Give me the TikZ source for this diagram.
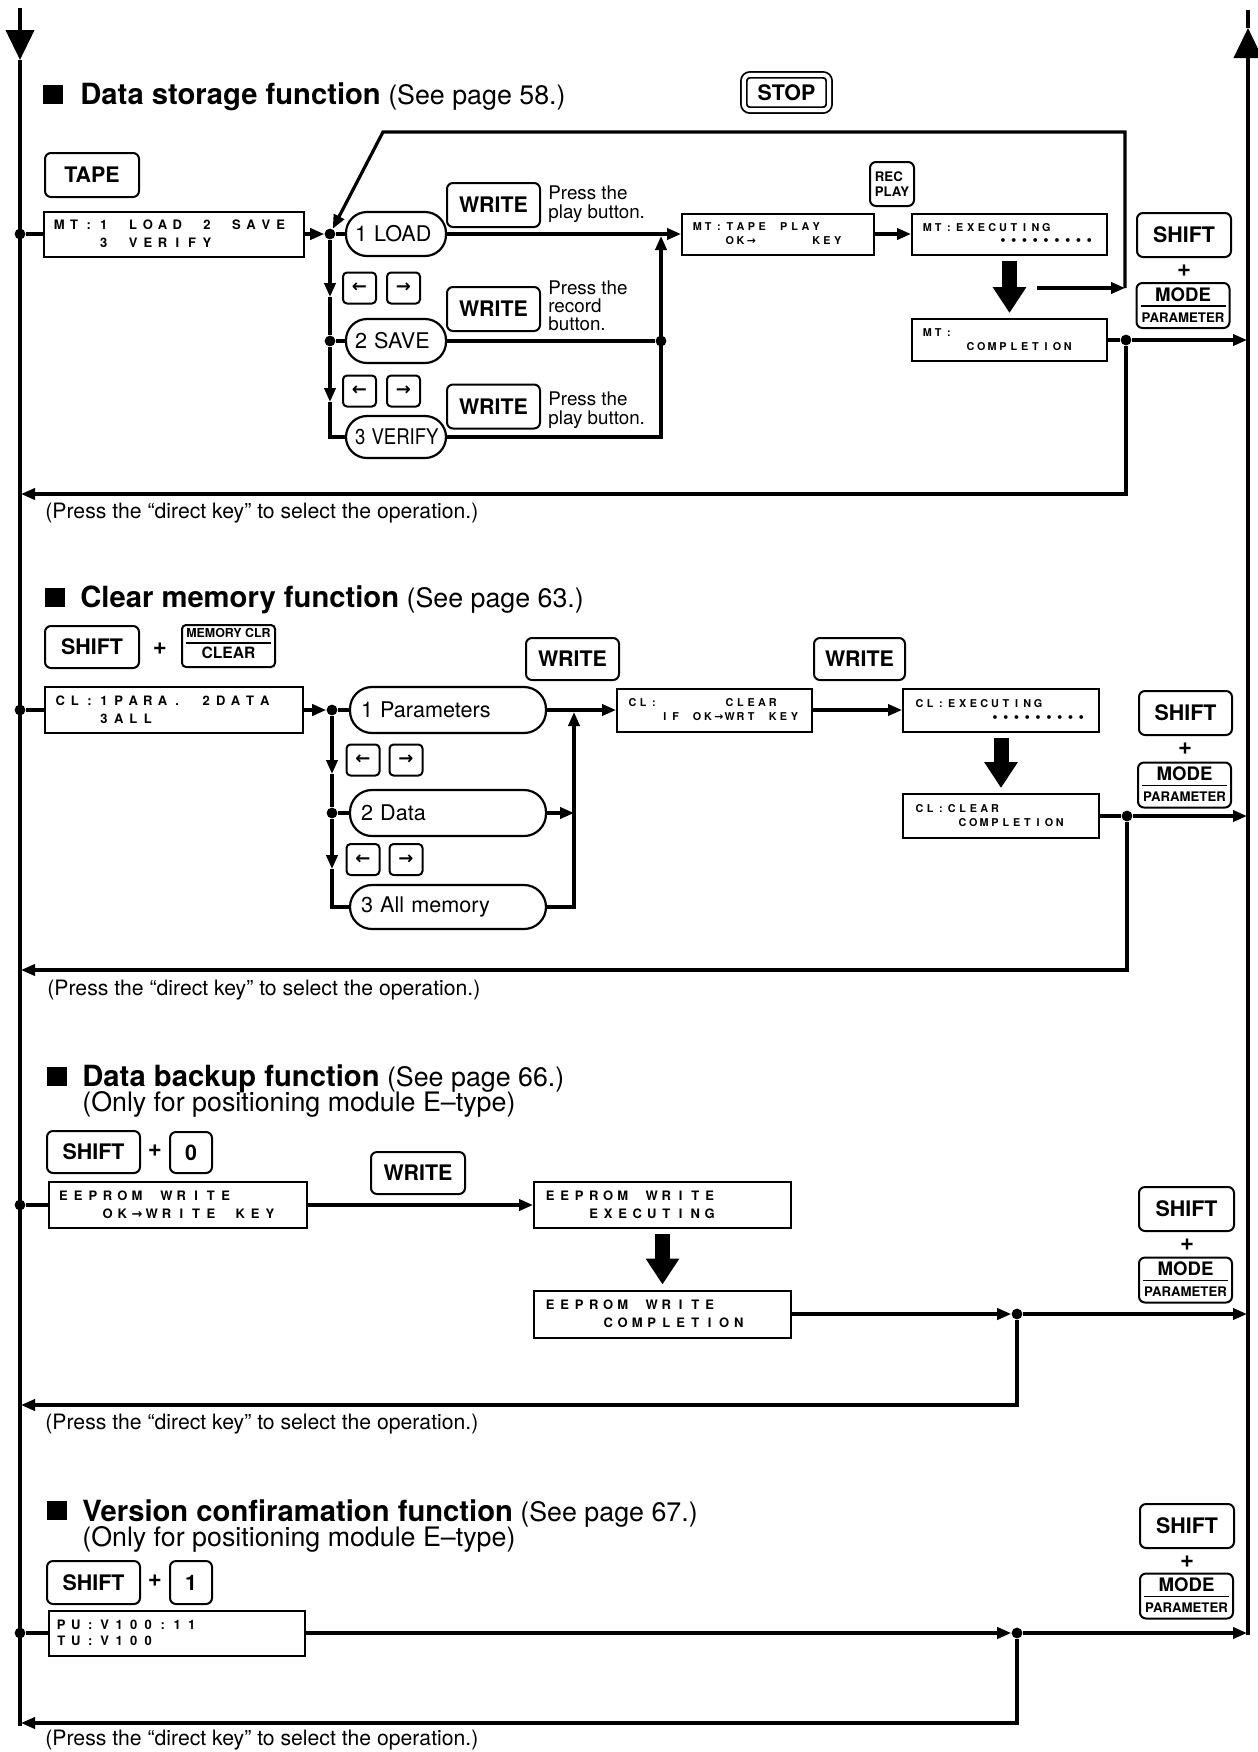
\documentclass[tikz,border=0pt]{standalone}
\usepackage{fontspec}
\usepackage{graphicx}
\setmainfont{TeX Gyre Heros}
\newfontfamily\arrowfont{DejaVu Sans}
\usetikzlibrary{arrows.meta}
\setlength\parindent{0pt}

% LCD text: every character sits in a cell of fixed width (given in px, 1px = 0.5pt);
% "_" is an empty cell.
\newdimen\lcdpx \lcdpx=0.5pt
\ExplSyntaxOn
\dim_new:N \l__lcd_cell_dim
\cs_new_protected:Npn \__lcd_char:n #1
  {
    \str_case:nnF {#1}
      {
        { _ } { }
        { → } { { \arrowfont \bfseries → } }
        { • } { { \arrowfont \bfseries • } }
      }
      { #1 }
  }
\NewDocumentCommand \lcd { O{14.75} m }
  {
    \dim_set:Nn \l__lcd_cell_dim { #1 \lcdpx }
    \str_map_inline:nn {#2}
      { \makebox [ \l__lcd_cell_dim ] [c] { \__lcd_char:n {##1} } }
  }
\ExplSyntaxOff

% MODE / PARAMETER key: name, x, y (centre)
\newcommand\modekey[3]{%
  \node[key, minimum width=46.5pt, minimum height=22.5pt] (#1) at (#2,#3) {};
  \node[inner sep=0pt, anchor=base, font=\bfseries\fontsize{9.3}{10}\selectfont] (#1-a) at (#2,#3-4.5) {MODE};
  \draw[line width=0.8pt] (#2-42.5,#3+0.5) -- (#2+42.5,#3+0.5);
  \node[inner sep=0pt, anchor=base, font=\bfseries\fontsize{6.6}{7}\selectfont] (#1-b) at (#2,#3+16.5) {PARAMETER};
}

\begin{document}
\begin{tikzpicture}[x=0.5pt, y=-0.5pt,
  main/.style={line width=2pt},
  flow/.style={line width=1.6pt},
  arr/.style={-{Triangle[length=7pt,width=5.6pt]}},
  bigarr/.style={-{Triangle[length=15pt,width=14pt]}},
  dot/.style={circle, fill, inner sep=0pt, minimum size=5.4pt},
  key/.style={draw, line width=1pt, rounded corners=3pt, inner sep=0pt,
    font=\bfseries\fontsize{10.7}{12}\selectfont},
  arrowkey/.style={key, minimum width=16.5pt, minimum height=15.5pt, rounded corners=2pt,
    font=\arrowfont\bfseries\fontsize{9}{12}\selectfont},
  lcdbig/.style={draw, line width=1pt, align=left, inner ysep=0pt,
    font=\bfseries\fontsize{6.5}{9}\selectfont},
  lcdsmall/.style={draw, line width=1pt, align=left, inner ysep=0pt, inner xsep=5pt,
    font=\bfseries\fontsize{5.4}{7}\selectfont},
  pill/.style={draw, line width=1.1pt, align=left, inner ysep=0pt,
    font=\fontsize{10.8}{12}\selectfont},
  pillA/.style={pill, text width=41pt, inner xsep=4.5pt, minimum height=22pt, rounded corners=10.5pt},
  pillB/.style={pill, text width=87pt, inner xsep=5.5pt, minimum height=23pt, rounded corners=11pt},
  press/.style={align=left, anchor=north west, inner sep=0pt, font=\fontsize{9.4}{9.5}\selectfont},
  note/.style={anchor=base west, inner sep=0pt, font=\fontsize{10.6}{12}\selectfont},
  ttl/.style={anchor=base west, inner sep=0pt, font=\fontsize{13.4}{15}\selectfont},
  tbul/.style={fill, inner sep=0pt, minimum width=10pt, minimum height=9.5pt},
  plus/.style={inner sep=0pt, font=\bfseries\fontsize{12}{14}\selectfont},
  bigdown/.style={line width=7.5pt, -{Triangle[length=13pt,width=16pt]}, shorten <=2.5pt, shorten >=2.5pt}
]
\useasboundingbox (0,0) rectangle (1258,1752);

% ---------- main return lines ----------
\coordinate (Ltop) at (20,8);
\coordinate (Larr) at (20,60);
\coordinate (Lbot) at (20,1726);
\coordinate (Rbot) at (1248,1635);
\coordinate (Rarr) at (1248,28);
\coordinate (Rtop) at (1248,10);
\draw[main, bigarr] (Ltop) -- (Larr);
\draw[main] (Larr) -- (Lbot);
\draw[main, bigarr] (Rbot) -- (Rarr);
\draw[main] (Rarr) -- (Rtop);

% =============== Data storage function ===============
\node[tbul] (b1) at (53,94) {};
\node[ttl] (t1) at (80,104) {{\bfseries\fontsize{14.6}{16}\selectfont Data storage function} (See page 58.)};
\node[key, double, double distance=2pt, line width=0.9pt, minimum width=42.6pt, minimum height=17.6pt] (stop) at (786.5,92.5) {STOP};
\node[key, minimum width=47pt, minimum height=22pt] (tape) at (92,175) {TAPE};
\node[lcdbig, text width=122pt, inner xsep=3.8pt, minimum height=22.5pt] (mt) at (174,234) {\lcd{MT:1_LOAD_2_SAVE}\\\lcd{___3_VERIFY}};
\node[dot] (m1) at (20,234) {};
\node[dot] (j1) at (330,234) {};
\node[pillA] (load) at (396,234) {1 LOAD};
\node[key, minimum width=46.5pt, minimum height=22pt] (w1) at (493.5,205) {WRITE};
\node[press] (p1) at (548,185) {Press the\\play button.};
\node[arrowkey] (k1l) at (359.5,288) {←};
\node[arrowkey] (k1r) at (403.5,288) {→};
\node[key, minimum width=46.5pt, minimum height=22pt] (w2) at (493.5,309) {WRITE};
\node[press, font=\fontsize{9.4}{9}\selectfont] (p2) at (548,280) {Press the\\record\\button.};
\node[pillA] (save) at (396,341) {2 SAVE};
\node[dot] (j2) at (330,341) {};
\node[dot] (r2) at (661,341) {};
\node[arrowkey] (k2l) at (359.5,391) {←};
\node[arrowkey] (k2r) at (403.5,391) {→};
\node[key, minimum width=46.5pt, minimum height=22pt] (w3) at (493.5,406.5) {WRITE};
\node[press] (p3) at (548,391) {Press the\\play button.};
\node[pillA, minimum height=21pt] (verify) at (396,437) {\scalebox{0.86}[1]{3 VERIFY}};
\node[lcdsmall, text width=86pt, minimum height=20.5pt] (mttape) at (778,234) {\lcd[10.8]{MT:TAPE_PLAY}\\\lcd[10.8]{___OK→_____KEY}};
\node[key, align=left, minimum width=22pt, minimum height=22pt, font=\bfseries\fontsize{6.6}{7.5}\selectfont] (rec) at (892,184) {REC\\PLAY};
\node[lcdsmall, text width=87.5pt, minimum height=20.5pt, font=\bfseries\fontsize{5.4}{6.3}\selectfont] (mtexec) at (1009.5,234) {\lcd[10.8]{MT:EXECUTING}\\\lcd[10.8]{_______•••••••••}};
\node[lcdsmall, text width=87.5pt, minimum height=21pt] (mtcomp) at (1009.5,340) {\lcd[10.8]{MT:}\\\lcd[10.8]{____COMPLETION}};
\node[dot] (d1) at (1126,340) {};
\node[key, minimum width=47pt, minimum height=22pt] (s1) at (1184,235) {SHIFT};
\node[plus] (pl1) at (1184,271) {+};
\modekey{mode1}{1183}{305.5}

\coordinate (a1) at (330,297);
\coordinate (a2) at (330,402);
\coordinate (v1) at (330,437);
\coordinate (rv1) at (661,437);
\coordinate (rt1) at (661,236);
\coordinate (fbA) at (1037,288);
\coordinate (fbB) at (1125,288);
\coordinate (fbC) at (1125,132);
\coordinate (fbD) at (383,132);
\coordinate (e1) at (1247,340);
\coordinate (ret1) at (1126,494);
\coordinate (rl1) at (21,494);

\draw[flow] (m1) -- (mt);
\draw[flow, arr] (mt) -- (j1);
\draw[flow] (j1) -- (load);
\draw[flow, arr] (j1) -- (a1);
\draw[flow] (a1) -- (j2);
\draw[flow] (j2) -- (save);
\draw[flow, arr] (j2) -- (a2);
\draw[flow] (a2) -- (v1) -- (verify);
\draw[flow, arr] (load) -- (mttape);
\draw[flow] (save) -- (r2);
\draw[flow, arr] (verify) -- (rv1) -- (rt1);
\draw[flow, arr] (mttape) -- (mtexec);
\draw[flow, arr] (fbA) -- (fbB);
\draw[flow, arr] (fbB) -- (fbC) -- (fbD) -- (j1);
\draw[bigdown] (mtexec) -- (mtcomp);
\draw[flow] (mtcomp) -- (d1);
\draw[flow, arr] (d1) -- (e1);
\draw[flow, arr] (d1) -- (ret1) -- (rl1);
\node[note] (n1) at (45,518) {(Press the “direct key” to select the operation.)};

% =============== Clear memory function ===============
\node[tbul] (b2) at (55,597) {};
\node[ttl] (t2) at (80,607) {{\bfseries\fontsize{14.6}{16}\selectfont Clear memory function} (See page 63.)};
\node[key, minimum width=47pt, minimum height=21pt] (s2) at (92,647) {SHIFT};
\node[plus] (pl2) at (160,649) {+};
\node[key, minimum width=46.5pt, minimum height=21pt, rounded corners=2pt] (mc) at (228.5,646) {};
\node[inner sep=0pt, anchor=base, font=\bfseries\fontsize{6.2}{7}\selectfont] (mc-a) at (228.5,637) {MEMORY CLR};
\draw[line width=0.8pt] (186,643) -- (271,643);
\node[inner sep=0pt, anchor=base, font=\bfseries\fontsize{7.8}{9}\selectfont] (mc-b) at (228.5,658) {CLEAR};
\node[key, minimum width=46.5pt, minimum height=21pt] (w2a) at (572.5,659) {WRITE};
\node[lcdbig, text width=121pt, inner xsep=4pt, minimum height=23pt] (cl) at (174,710) {\lcd[14.6]{CL:1PARA._2DATA}\\\lcd[14.6]{___3ALL}};
\node[dot] (m2) at (20,710) {};
\node[dot] (j3) at (332,710) {};
\node[pillB] (params) at (448,710) {1 Parameters};
\node[arrowkey] (k3l) at (363,760) {←};
\node[arrowkey] (k3r) at (406,760) {→};
\node[pillB] (data) at (448,813) {2 Data};
\node[dot] (j4) at (332,813) {};
\node[arrowkey] (k4l) at (363,859.5) {←};
\node[arrowkey] (k4r) at (406,859.5) {→};
\node[pillB, minimum height=22pt] (allmem) at (448,907) {3 All memory};
\node[lcdsmall, text width=87.5pt, minimum height=21.5pt] (clclr) at (714.5,710) {\lcd[10.8]{CL:______CLEAR}\\\lcd[10.8]{___IF_OK→WRT_KEY}};
\node[key, minimum width=45.5pt, minimum height=21pt] (w2b) at (859.5,659) {WRITE};
\node[lcdsmall, text width=87pt, inner xsep=5.5pt, minimum height=21.5pt] (clexec) at (1001,710) {\lcd[10.8]{CL:EXECUTING}\\\lcd[10.8]{_______•••••••••}};
\node[lcdsmall, text width=87pt, inner xsep=5.5pt, minimum height=22pt] (clcomp) at (1001,816) {\lcd[10.8]{CL:CLEAR}\\\lcd[10.8]{____COMPLETION}};
\node[dot] (d2) at (1127,816) {};
\node[key, minimum width=46.5pt, minimum height=22pt] (s2r) at (1185.5,713) {SHIFT};
\node[plus] (pl2r) at (1185,749) {+};
\modekey{mode2}{1184.5}{785}

\coordinate (a3) at (332,774);
\coordinate (a4) at (332,869);
\coordinate (v3) at (332,907);
\coordinate (rv2) at (574,907);
\coordinate (rt2) at (574,712);
\coordinate (dd) at (574,813);
\coordinate (e2) at (1247,816);
\coordinate (ret2) at (1127,970);
\coordinate (rl2) at (21,970);

\draw[flow] (m2) -- (cl);
\draw[flow, arr] (cl) -- (j3);
\draw[flow] (j3) -- (params);
\draw[flow, arr] (j3) -- (a3);
\draw[flow] (a3) -- (j4);
\draw[flow] (j4) -- (data);
\draw[flow, arr] (j4) -- (a4);
\draw[flow] (a4) -- (v3) -- (allmem);
\draw[flow, arr] (allmem) -- (rv2) -- (rt2);
\draw[flow, arr] (data) -- (dd);
\draw[flow, arr] (params) -- (clclr);
\draw[flow, arr] (clclr) -- (clexec);
\draw[bigdown] (clexec) -- (clcomp);
\draw[flow] (clcomp) -- (d2);
\draw[flow, arr] (d2) -- (e2);
\draw[flow, arr] (d2) -- (ret2) -- (rl2);
\node[note] (n2) at (47,995) {(Press the “direct key” to select the operation.)};

% =============== Data backup function ===============
\node[tbul] (b3) at (57,1076) {};
\node[ttl] (t3) at (82,1086) {{\bfseries\fontsize{14.6}{16}\selectfont Data backup function} (See page 66.)};
\node[ttl] (t3b) at (82,1111) {(Only for positioning module E–type)};
\node[key, minimum width=46.5pt, minimum height=21pt] (s3) at (93.5,1152) {SHIFT};
\node[plus] (pl3) at (155,1151) {+};
\node[key, minimum width=21pt, minimum height=20.5pt] (k0) at (191,1152.5) {0};
\node[key, minimum width=47pt, minimum height=21pt] (w3a) at (418,1173) {WRITE};
\node[lcdbig, text width=122pt, inner xsep=3.5pt, minimum height=23pt] (ee1) at (178,1205) {\lcd{EEPROM_WRITE}\\\lcd{___OK→WRITE_KEY}};
\node[lcdbig, text width=119.5pt, inner xsep=4.5pt, minimum height=23pt] (ee2) at (662.5,1205) {\lcd[14.5]{EEPROM_WRITE}\\\lcd[14.5]{___EXECUTING}};
\node[lcdbig, text width=119.5pt, inner xsep=4.5pt, minimum height=23.5pt] (ee3) at (662.5,1314) {\lcd[14.5]{EEPROM_WRITE}\\\lcd[14.5]{____COMPLETION}};
\node[dot] (m3) at (20,1205) {};
\node[dot] (d3) at (1017,1314) {};
\node[key, minimum width=47.5pt, minimum height=22pt] (s3r) at (1186.5,1209) {SHIFT};
\node[plus] (pl3r) at (1187,1245) {+};
\modekey{mode3}{1185.5}{1280}

\coordinate (e3) at (1247,1314);
\coordinate (ret3) at (1017,1405);
\coordinate (rl3) at (21,1405);

\draw[flow] (m3) -- (ee1);
\draw[flow, arr] (ee1) -- (ee2);
\draw[bigdown] (ee2) -- (ee3);
\draw[flow, arr] (ee3) -- (d3);
\draw[flow, arr] (d3) -- (e3);
\draw[flow, arr] (d3) -- (ret3) -- (rl3);
\node[note] (n3) at (45,1429) {(Press the “direct key” to select the operation.)};

% =============== Version confirmation function ===============
\node[tbul] (b4) at (57,1510.5) {};
\node[ttl] (t4) at (82,1521) {{\bfseries\fontsize{14.6}{16}\selectfont Version confiramation function} (See page 67.)};
\node[ttl] (t4b) at (82,1546) {(Only for positioning module E–type)};
\node[key, minimum width=46.5pt, minimum height=21.5pt] (s4) at (93.5,1582.5) {SHIFT};
\node[plus] (pl4) at (155,1581) {+};
\node[key, minimum width=21pt, minimum height=21.5pt] (k1) at (191,1582.5) {1};
\node[lcdbig, text width=123pt, inner xsep=2.5pt, minimum height=22.5pt, font=\bfseries\fontsize{6.5}{8}\selectfont] (pu) at (177,1633) {\lcd[14.5]{PU:V100:11}\\\lcd[14.5]{TU:V100}};
\node[dot] (m4) at (20,1633) {};
\node[dot] (d4) at (1017,1633) {};
\node[key, minimum width=47pt, minimum height=22pt] (s4r) at (1187,1526) {SHIFT};
\node[plus] (pl4r) at (1187,1562) {+};
\modekey{mode4}{1186.5}{1596}

\coordinate (e4) at (1247,1633);
\coordinate (ret4) at (1017,1723);
\coordinate (rl4) at (21,1723);

\draw[flow] (m4) -- (pu);
\draw[flow, arr] (pu) -- (d4);
\draw[flow, arr] (d4) -- (e4);
\draw[flow, arr] (d4) -- (ret4) -- (rl4);
\node[note] (n4) at (45,1745) {(Press the “direct key” to select the operation.)};
\end{tikzpicture}
\end{document}
